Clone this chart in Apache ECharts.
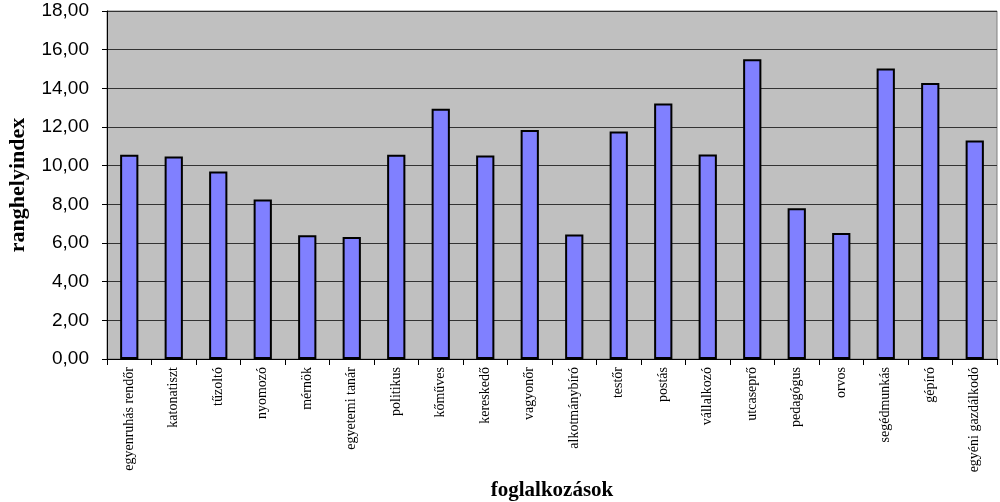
<!DOCTYPE html>
<html>
<head>
<meta charset="utf-8">
<script src="https://cdn.jsdelivr.net/npm/echarts@6/dist/echarts.min.js"></script>
<style>
  html, body { margin: 0; padding: 0; background: #ffffff; }
  #chart { width: 1000px; height: 502px; }
</style>
</head>
<body>
<div id="chart"></div>
<script>
// Occupations on the x axis
const categories = [
  'egyenruhás rendőr', 'katonatiszt', 'tűzoltó', 'nyomozó', 'mérnök',
  'egyetemi tanár', 'politikus', 'kőműves', 'kereskedő', 'vagyonőr',
  'alkotmánybíró', 'testőr', 'postás', 'vállalkozó', 'utcaseprő',
  'pedagógus', 'orvos', 'segédmunkás', 'gépíró', 'egyéni gazdálkodó'
];

// Rank index for each occupation
const rankIndex = [
  10.56, 10.48, 9.70, 8.25, 6.40,
  6.31, 10.56, 12.95, 10.53, 11.85,
  6.44, 11.77, 13.22, 10.58, 15.50,
  7.80, 6.52, 15.03, 14.27, 11.30
];

// Value axis ticks
const yTicks = { min: 0, max: 18, interval: 2 };

const chart = echarts.init(document.getElementById('chart'), null, { renderer: 'canvas' });

chart.setOption({
  animation: false,
  backgroundColor: '#ffffff',
  grid: {
    left: 107, right: 3, top: 11, bottom: 143,
    outerBoundsMode: 'none',
    containLabel: false,
    show: true,
    backgroundColor: '#c0c0c0',
    borderColor: '#808080',
    borderWidth: 1
  },
  xAxis: {
    type: 'category',
    data: categories,
    name: 'foglalkozások',
    nameLocation: 'middle',
    nameGap: 115,
    nameTextStyle: {
      fontFamily: 'Liberation Serif', fontWeight: 'bold', fontSize: 21, color: '#000'
    },
    axisLine: { show: true, lineStyle: { color: '#000', width: 1 } },
    axisTick: { show: true, length: 6, lineStyle: { color: '#000' } },
    axisLabel: {
      rotate: 90,
      interval: 0,
      margin: 8,
      fontFamily: 'Liberation Serif',
      fontSize: 14,
      color: '#000'
    }
  },
  yAxis: {
    type: 'value',
    min: yTicks.min,
    max: yTicks.max,
    interval: yTicks.interval,
    name: 'ranghelyindex',
    nameLocation: 'middle',
    nameGap: 78,
    nameTextStyle: {
      fontFamily: 'Liberation Serif', fontWeight: 'bold', fontSize: 22, color: '#000'
    },
    axisLine: { show: true, lineStyle: { color: '#000', width: 1 } },
    axisTick: { show: true, length: 5, lineStyle: { color: '#000' } },
    axisLabel: {
      margin: 18,
      fontFamily: 'Liberation Sans',
      fontSize: 19,
      color: '#000',
      formatter: v => v.toFixed(2).replace('.', ',')
    },
    splitLine: { show: true, lineStyle: { color: '#333333', width: 1 } }
  },
  series: [{
    type: 'bar',
    data: rankIndex,
    barCategoryGap: '59%',
    itemStyle: {
      color: '#8080ff',
      borderColor: '#000000',
      borderWidth: 2
    }
  }]
});
</script>
</body>
</html>
